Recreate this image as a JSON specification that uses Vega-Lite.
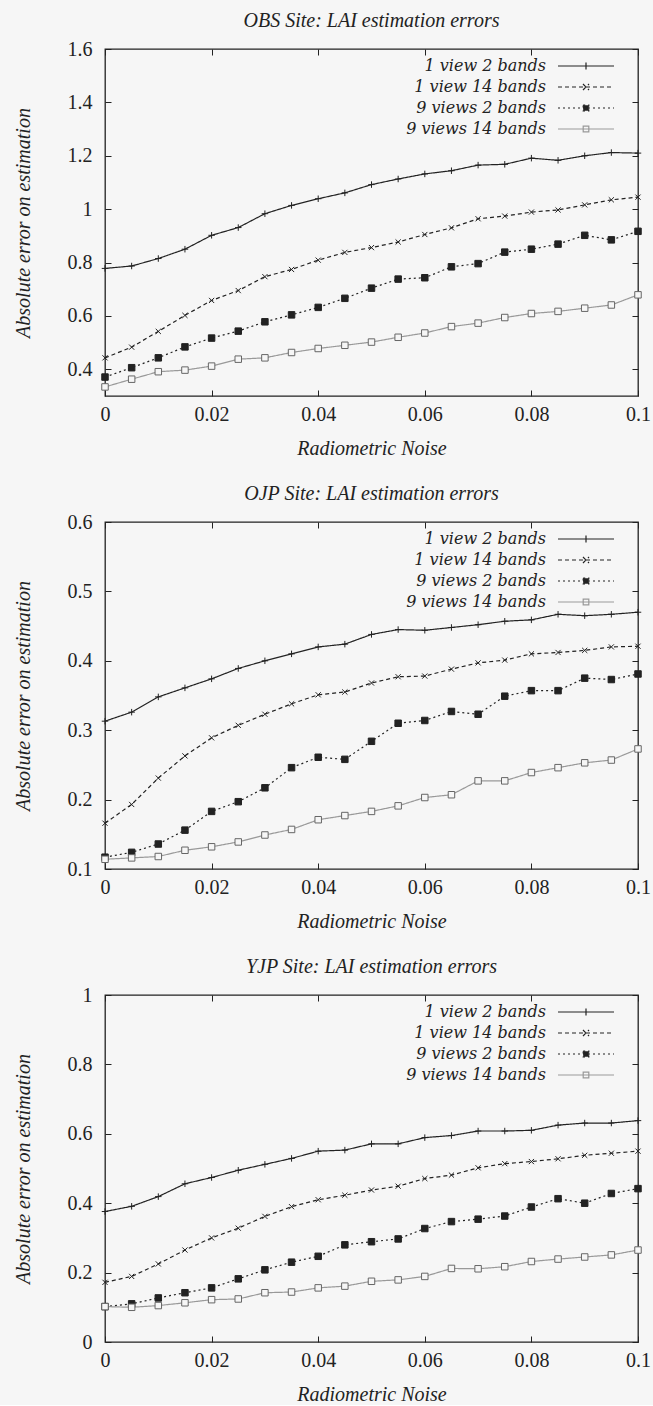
{
  "$schema": "https://vega.github.io/schema/vega-lite/v6.json",
  "background": "#f6f6f6",
  "padding": {"left": 12, "top": 10, "right": 2, "bottom": 0},
  "spacing": 24,
  "config": {
    "view": {"stroke": "#222", "strokeWidth": 1.3},
    "axis": {
      "domain": false, "grid": false,
      "tickSize": -6, "tickColor": "#222", "tickWidth": 1,
      "labelFont": "Liberation Serif", "labelFontSize": 20, "labelColor": "#222",
      "labelFlush": false, "labelOverlap": false,
      "titleFont": "Liberation Serif", "titleFontStyle": "italic", "titleFontSize": 20,
      "titleFontWeight": "normal", "titleColor": "#222", "format": "~g"
    },
    "title": {"font": "Liberation Serif", "fontStyle": "italic", "fontSize": 20, "fontWeight": "normal", "color": "#222", "offset": 8},
    "legend": {
      "labelFont": "DejaVu Serif", "labelFontStyle": "italic", "labelFontSize": 16, "labelColor": "#222",
      "labelLimit": 400, "symbolStrokeWidth": 1.2
    }
  },
  "datasets": {
    "obs": [
      {"series": "1 view 2 bands", "noise": 0, "error": 0.778},
      {"series": "1 view 2 bands", "noise": 0.005, "error": 0.787},
      {"series": "1 view 2 bands", "noise": 0.01, "error": 0.815},
      {"series": "1 view 2 bands", "noise": 0.015, "error": 0.85},
      {"series": "1 view 2 bands", "noise": 0.02, "error": 0.902},
      {"series": "1 view 2 bands", "noise": 0.025, "error": 0.931},
      {"series": "1 view 2 bands", "noise": 0.03, "error": 0.983},
      {"series": "1 view 2 bands", "noise": 0.035, "error": 1.014},
      {"series": "1 view 2 bands", "noise": 0.04, "error": 1.039},
      {"series": "1 view 2 bands", "noise": 0.045, "error": 1.061},
      {"series": "1 view 2 bands", "noise": 0.05, "error": 1.092},
      {"series": "1 view 2 bands", "noise": 0.055, "error": 1.113},
      {"series": "1 view 2 bands", "noise": 0.06, "error": 1.132},
      {"series": "1 view 2 bands", "noise": 0.065, "error": 1.144},
      {"series": "1 view 2 bands", "noise": 0.07, "error": 1.165},
      {"series": "1 view 2 bands", "noise": 0.075, "error": 1.168},
      {"series": "1 view 2 bands", "noise": 0.08, "error": 1.191},
      {"series": "1 view 2 bands", "noise": 0.085, "error": 1.183},
      {"series": "1 view 2 bands", "noise": 0.09, "error": 1.2},
      {"series": "1 view 2 bands", "noise": 0.095, "error": 1.212},
      {"series": "1 view 2 bands", "noise": 0.1, "error": 1.21},
      {"series": "1 view 14 bands", "noise": 0, "error": 0.443},
      {"series": "1 view 14 bands", "noise": 0.005, "error": 0.483},
      {"series": "1 view 14 bands", "noise": 0.01, "error": 0.542},
      {"series": "1 view 14 bands", "noise": 0.015, "error": 0.602},
      {"series": "1 view 14 bands", "noise": 0.02, "error": 0.658},
      {"series": "1 view 14 bands", "noise": 0.025, "error": 0.695},
      {"series": "1 view 14 bands", "noise": 0.03, "error": 0.747},
      {"series": "1 view 14 bands", "noise": 0.035, "error": 0.774},
      {"series": "1 view 14 bands", "noise": 0.04, "error": 0.809},
      {"series": "1 view 14 bands", "noise": 0.045, "error": 0.838},
      {"series": "1 view 14 bands", "noise": 0.05, "error": 0.856},
      {"series": "1 view 14 bands", "noise": 0.055, "error": 0.877},
      {"series": "1 view 14 bands", "noise": 0.06, "error": 0.905},
      {"series": "1 view 14 bands", "noise": 0.065, "error": 0.93},
      {"series": "1 view 14 bands", "noise": 0.07, "error": 0.964},
      {"series": "1 view 14 bands", "noise": 0.075, "error": 0.974},
      {"series": "1 view 14 bands", "noise": 0.08, "error": 0.989},
      {"series": "1 view 14 bands", "noise": 0.085, "error": 0.997},
      {"series": "1 view 14 bands", "noise": 0.09, "error": 1.016},
      {"series": "1 view 14 bands", "noise": 0.095, "error": 1.035},
      {"series": "1 view 14 bands", "noise": 0.1, "error": 1.045},
      {"series": "9 views 2 bands", "noise": 0, "error": 0.371},
      {"series": "9 views 2 bands", "noise": 0.005, "error": 0.406},
      {"series": "9 views 2 bands", "noise": 0.01, "error": 0.443},
      {"series": "9 views 2 bands", "noise": 0.015, "error": 0.484},
      {"series": "9 views 2 bands", "noise": 0.02, "error": 0.517},
      {"series": "9 views 2 bands", "noise": 0.025, "error": 0.543},
      {"series": "9 views 2 bands", "noise": 0.03, "error": 0.578},
      {"series": "9 views 2 bands", "noise": 0.035, "error": 0.604},
      {"series": "9 views 2 bands", "noise": 0.04, "error": 0.632},
      {"series": "9 views 2 bands", "noise": 0.045, "error": 0.666},
      {"series": "9 views 2 bands", "noise": 0.05, "error": 0.704},
      {"series": "9 views 2 bands", "noise": 0.055, "error": 0.738},
      {"series": "9 views 2 bands", "noise": 0.06, "error": 0.743},
      {"series": "9 views 2 bands", "noise": 0.065, "error": 0.784},
      {"series": "9 views 2 bands", "noise": 0.07, "error": 0.796},
      {"series": "9 views 2 bands", "noise": 0.075, "error": 0.839},
      {"series": "9 views 2 bands", "noise": 0.08, "error": 0.85},
      {"series": "9 views 2 bands", "noise": 0.085, "error": 0.869},
      {"series": "9 views 2 bands", "noise": 0.09, "error": 0.902},
      {"series": "9 views 2 bands", "noise": 0.095, "error": 0.885},
      {"series": "9 views 2 bands", "noise": 0.1, "error": 0.917},
      {"series": "9 views 14 bands", "noise": 0, "error": 0.334},
      {"series": "9 views 14 bands", "noise": 0.005, "error": 0.363},
      {"series": "9 views 14 bands", "noise": 0.01, "error": 0.391},
      {"series": "9 views 14 bands", "noise": 0.015, "error": 0.397},
      {"series": "9 views 14 bands", "noise": 0.02, "error": 0.412},
      {"series": "9 views 14 bands", "noise": 0.025, "error": 0.438},
      {"series": "9 views 14 bands", "noise": 0.03, "error": 0.443},
      {"series": "9 views 14 bands", "noise": 0.035, "error": 0.463},
      {"series": "9 views 14 bands", "noise": 0.04, "error": 0.478},
      {"series": "9 views 14 bands", "noise": 0.045, "error": 0.49},
      {"series": "9 views 14 bands", "noise": 0.05, "error": 0.502},
      {"series": "9 views 14 bands", "noise": 0.055, "error": 0.52},
      {"series": "9 views 14 bands", "noise": 0.06, "error": 0.536},
      {"series": "9 views 14 bands", "noise": 0.065, "error": 0.56},
      {"series": "9 views 14 bands", "noise": 0.07, "error": 0.573},
      {"series": "9 views 14 bands", "noise": 0.075, "error": 0.594},
      {"series": "9 views 14 bands", "noise": 0.08, "error": 0.609},
      {"series": "9 views 14 bands", "noise": 0.085, "error": 0.617},
      {"series": "9 views 14 bands", "noise": 0.09, "error": 0.629},
      {"series": "9 views 14 bands", "noise": 0.095, "error": 0.641},
      {"series": "9 views 14 bands", "noise": 0.1, "error": 0.679}
    ],
    "ojp": [
      {"series": "1 view 2 bands", "noise": 0, "error": 0.313},
      {"series": "1 view 2 bands", "noise": 0.005, "error": 0.326},
      {"series": "1 view 2 bands", "noise": 0.01, "error": 0.348},
      {"series": "1 view 2 bands", "noise": 0.015, "error": 0.361},
      {"series": "1 view 2 bands", "noise": 0.02, "error": 0.374},
      {"series": "1 view 2 bands", "noise": 0.025, "error": 0.389},
      {"series": "1 view 2 bands", "noise": 0.03, "error": 0.4},
      {"series": "1 view 2 bands", "noise": 0.035, "error": 0.41},
      {"series": "1 view 2 bands", "noise": 0.04, "error": 0.42},
      {"series": "1 view 2 bands", "noise": 0.045, "error": 0.424},
      {"series": "1 view 2 bands", "noise": 0.05, "error": 0.438},
      {"series": "1 view 2 bands", "noise": 0.055, "error": 0.445},
      {"series": "1 view 2 bands", "noise": 0.06, "error": 0.444},
      {"series": "1 view 2 bands", "noise": 0.065, "error": 0.448},
      {"series": "1 view 2 bands", "noise": 0.07, "error": 0.452},
      {"series": "1 view 2 bands", "noise": 0.075, "error": 0.457},
      {"series": "1 view 2 bands", "noise": 0.08, "error": 0.459},
      {"series": "1 view 2 bands", "noise": 0.085, "error": 0.467},
      {"series": "1 view 2 bands", "noise": 0.09, "error": 0.465},
      {"series": "1 view 2 bands", "noise": 0.095, "error": 0.467},
      {"series": "1 view 2 bands", "noise": 0.1, "error": 0.47},
      {"series": "1 view 14 bands", "noise": 0, "error": 0.166},
      {"series": "1 view 14 bands", "noise": 0.005, "error": 0.193},
      {"series": "1 view 14 bands", "noise": 0.01, "error": 0.231},
      {"series": "1 view 14 bands", "noise": 0.015, "error": 0.263},
      {"series": "1 view 14 bands", "noise": 0.02, "error": 0.289},
      {"series": "1 view 14 bands", "noise": 0.025, "error": 0.307},
      {"series": "1 view 14 bands", "noise": 0.03, "error": 0.323},
      {"series": "1 view 14 bands", "noise": 0.035, "error": 0.338},
      {"series": "1 view 14 bands", "noise": 0.04, "error": 0.351},
      {"series": "1 view 14 bands", "noise": 0.045, "error": 0.355},
      {"series": "1 view 14 bands", "noise": 0.05, "error": 0.368},
      {"series": "1 view 14 bands", "noise": 0.055, "error": 0.377},
      {"series": "1 view 14 bands", "noise": 0.06, "error": 0.378},
      {"series": "1 view 14 bands", "noise": 0.065, "error": 0.388},
      {"series": "1 view 14 bands", "noise": 0.07, "error": 0.397},
      {"series": "1 view 14 bands", "noise": 0.075, "error": 0.401},
      {"series": "1 view 14 bands", "noise": 0.08, "error": 0.41},
      {"series": "1 view 14 bands", "noise": 0.085, "error": 0.412},
      {"series": "1 view 14 bands", "noise": 0.09, "error": 0.415},
      {"series": "1 view 14 bands", "noise": 0.095, "error": 0.42},
      {"series": "1 view 14 bands", "noise": 0.1, "error": 0.421},
      {"series": "9 views 2 bands", "noise": 0, "error": 0.117},
      {"series": "9 views 2 bands", "noise": 0.005, "error": 0.124},
      {"series": "9 views 2 bands", "noise": 0.01, "error": 0.136},
      {"series": "9 views 2 bands", "noise": 0.015, "error": 0.156},
      {"series": "9 views 2 bands", "noise": 0.02, "error": 0.183},
      {"series": "9 views 2 bands", "noise": 0.025, "error": 0.197},
      {"series": "9 views 2 bands", "noise": 0.03, "error": 0.217},
      {"series": "9 views 2 bands", "noise": 0.035, "error": 0.246},
      {"series": "9 views 2 bands", "noise": 0.04, "error": 0.261},
      {"series": "9 views 2 bands", "noise": 0.045, "error": 0.258},
      {"series": "9 views 2 bands", "noise": 0.05, "error": 0.284},
      {"series": "9 views 2 bands", "noise": 0.055, "error": 0.31},
      {"series": "9 views 2 bands", "noise": 0.06, "error": 0.314},
      {"series": "9 views 2 bands", "noise": 0.065, "error": 0.327},
      {"series": "9 views 2 bands", "noise": 0.07, "error": 0.323},
      {"series": "9 views 2 bands", "noise": 0.075, "error": 0.349},
      {"series": "9 views 2 bands", "noise": 0.08, "error": 0.357},
      {"series": "9 views 2 bands", "noise": 0.085, "error": 0.357},
      {"series": "9 views 2 bands", "noise": 0.09, "error": 0.375},
      {"series": "9 views 2 bands", "noise": 0.095, "error": 0.373},
      {"series": "9 views 2 bands", "noise": 0.1, "error": 0.381},
      {"series": "9 views 14 bands", "noise": 0, "error": 0.114},
      {"series": "9 views 14 bands", "noise": 0.005, "error": 0.116},
      {"series": "9 views 14 bands", "noise": 0.01, "error": 0.118},
      {"series": "9 views 14 bands", "noise": 0.015, "error": 0.127},
      {"series": "9 views 14 bands", "noise": 0.02, "error": 0.132},
      {"series": "9 views 14 bands", "noise": 0.025, "error": 0.139},
      {"series": "9 views 14 bands", "noise": 0.03, "error": 0.149},
      {"series": "9 views 14 bands", "noise": 0.035, "error": 0.157},
      {"series": "9 views 14 bands", "noise": 0.04, "error": 0.171},
      {"series": "9 views 14 bands", "noise": 0.045, "error": 0.177},
      {"series": "9 views 14 bands", "noise": 0.05, "error": 0.183},
      {"series": "9 views 14 bands", "noise": 0.055, "error": 0.191},
      {"series": "9 views 14 bands", "noise": 0.06, "error": 0.203},
      {"series": "9 views 14 bands", "noise": 0.065, "error": 0.207},
      {"series": "9 views 14 bands", "noise": 0.07, "error": 0.227},
      {"series": "9 views 14 bands", "noise": 0.075, "error": 0.227},
      {"series": "9 views 14 bands", "noise": 0.08, "error": 0.239},
      {"series": "9 views 14 bands", "noise": 0.085, "error": 0.246},
      {"series": "9 views 14 bands", "noise": 0.09, "error": 0.253},
      {"series": "9 views 14 bands", "noise": 0.095, "error": 0.257},
      {"series": "9 views 14 bands", "noise": 0.1, "error": 0.273}
    ],
    "yjp": [
      {"series": "1 view 2 bands", "noise": 0, "error": 0.376},
      {"series": "1 view 2 bands", "noise": 0.005, "error": 0.391},
      {"series": "1 view 2 bands", "noise": 0.01, "error": 0.419},
      {"series": "1 view 2 bands", "noise": 0.015, "error": 0.456},
      {"series": "1 view 2 bands", "noise": 0.02, "error": 0.474},
      {"series": "1 view 2 bands", "noise": 0.025, "error": 0.495},
      {"series": "1 view 2 bands", "noise": 0.03, "error": 0.512},
      {"series": "1 view 2 bands", "noise": 0.035, "error": 0.529},
      {"series": "1 view 2 bands", "noise": 0.04, "error": 0.55},
      {"series": "1 view 2 bands", "noise": 0.045, "error": 0.553},
      {"series": "1 view 2 bands", "noise": 0.05, "error": 0.571},
      {"series": "1 view 2 bands", "noise": 0.055, "error": 0.571},
      {"series": "1 view 2 bands", "noise": 0.06, "error": 0.589},
      {"series": "1 view 2 bands", "noise": 0.065, "error": 0.595},
      {"series": "1 view 2 bands", "noise": 0.07, "error": 0.608},
      {"series": "1 view 2 bands", "noise": 0.075, "error": 0.608},
      {"series": "1 view 2 bands", "noise": 0.08, "error": 0.61},
      {"series": "1 view 2 bands", "noise": 0.085, "error": 0.625},
      {"series": "1 view 2 bands", "noise": 0.09, "error": 0.631},
      {"series": "1 view 2 bands", "noise": 0.095, "error": 0.631},
      {"series": "1 view 2 bands", "noise": 0.1, "error": 0.638},
      {"series": "1 view 14 bands", "noise": 0, "error": 0.172},
      {"series": "1 view 14 bands", "noise": 0.005, "error": 0.189},
      {"series": "1 view 14 bands", "noise": 0.01, "error": 0.225},
      {"series": "1 view 14 bands", "noise": 0.015, "error": 0.265},
      {"series": "1 view 14 bands", "noise": 0.02, "error": 0.3},
      {"series": "1 view 14 bands", "noise": 0.025, "error": 0.328},
      {"series": "1 view 14 bands", "noise": 0.03, "error": 0.362},
      {"series": "1 view 14 bands", "noise": 0.035, "error": 0.39},
      {"series": "1 view 14 bands", "noise": 0.04, "error": 0.41},
      {"series": "1 view 14 bands", "noise": 0.045, "error": 0.423},
      {"series": "1 view 14 bands", "noise": 0.05, "error": 0.438},
      {"series": "1 view 14 bands", "noise": 0.055, "error": 0.449},
      {"series": "1 view 14 bands", "noise": 0.06, "error": 0.471},
      {"series": "1 view 14 bands", "noise": 0.065, "error": 0.481},
      {"series": "1 view 14 bands", "noise": 0.07, "error": 0.502},
      {"series": "1 view 14 bands", "noise": 0.075, "error": 0.514},
      {"series": "1 view 14 bands", "noise": 0.08, "error": 0.52},
      {"series": "1 view 14 bands", "noise": 0.085, "error": 0.528},
      {"series": "1 view 14 bands", "noise": 0.09, "error": 0.538},
      {"series": "1 view 14 bands", "noise": 0.095, "error": 0.544},
      {"series": "1 view 14 bands", "noise": 0.1, "error": 0.55},
      {"series": "9 views 2 bands", "noise": 0, "error": 0.102},
      {"series": "9 views 2 bands", "noise": 0.005, "error": 0.11},
      {"series": "9 views 2 bands", "noise": 0.01, "error": 0.127},
      {"series": "9 views 2 bands", "noise": 0.015, "error": 0.142},
      {"series": "9 views 2 bands", "noise": 0.02, "error": 0.156},
      {"series": "9 views 2 bands", "noise": 0.025, "error": 0.182},
      {"series": "9 views 2 bands", "noise": 0.03, "error": 0.208},
      {"series": "9 views 2 bands", "noise": 0.035, "error": 0.23},
      {"series": "9 views 2 bands", "noise": 0.04, "error": 0.247},
      {"series": "9 views 2 bands", "noise": 0.045, "error": 0.28},
      {"series": "9 views 2 bands", "noise": 0.05, "error": 0.289},
      {"series": "9 views 2 bands", "noise": 0.055, "error": 0.297},
      {"series": "9 views 2 bands", "noise": 0.06, "error": 0.327},
      {"series": "9 views 2 bands", "noise": 0.065, "error": 0.347},
      {"series": "9 views 2 bands", "noise": 0.07, "error": 0.354},
      {"series": "9 views 2 bands", "noise": 0.075, "error": 0.363},
      {"series": "9 views 2 bands", "noise": 0.08, "error": 0.389},
      {"series": "9 views 2 bands", "noise": 0.085, "error": 0.413},
      {"series": "9 views 2 bands", "noise": 0.09, "error": 0.4},
      {"series": "9 views 2 bands", "noise": 0.095, "error": 0.428},
      {"series": "9 views 2 bands", "noise": 0.1, "error": 0.442},
      {"series": "9 views 14 bands", "noise": 0, "error": 0.102},
      {"series": "9 views 14 bands", "noise": 0.005, "error": 0.1},
      {"series": "9 views 14 bands", "noise": 0.01, "error": 0.105},
      {"series": "9 views 14 bands", "noise": 0.015, "error": 0.113},
      {"series": "9 views 14 bands", "noise": 0.02, "error": 0.122},
      {"series": "9 views 14 bands", "noise": 0.025, "error": 0.124},
      {"series": "9 views 14 bands", "noise": 0.03, "error": 0.142},
      {"series": "9 views 14 bands", "noise": 0.035, "error": 0.144},
      {"series": "9 views 14 bands", "noise": 0.04, "error": 0.156},
      {"series": "9 views 14 bands", "noise": 0.045, "error": 0.161},
      {"series": "9 views 14 bands", "noise": 0.05, "error": 0.175},
      {"series": "9 views 14 bands", "noise": 0.055, "error": 0.179},
      {"series": "9 views 14 bands", "noise": 0.06, "error": 0.189},
      {"series": "9 views 14 bands", "noise": 0.065, "error": 0.212},
      {"series": "9 views 14 bands", "noise": 0.07, "error": 0.211},
      {"series": "9 views 14 bands", "noise": 0.075, "error": 0.217},
      {"series": "9 views 14 bands", "noise": 0.08, "error": 0.232},
      {"series": "9 views 14 bands", "noise": 0.085, "error": 0.239},
      {"series": "9 views 14 bands", "noise": 0.09, "error": 0.245},
      {"series": "9 views 14 bands", "noise": 0.095, "error": 0.251},
      {"series": "9 views 14 bands", "noise": 0.1, "error": 0.265}
    ]
  },
  "vconcat": [
    {
      "data": {"name": "obs"},
      "width": 533, "height": 347,
      "title": "OBS Site: LAI estimation errors",
      "layer": [
        {
          "mark": {"type": "line", "strokeWidth": 1.2},
          "encoding": {
            "x": {"field": "noise", "type": "quantitative", "scale": {"domain": [0, 0.1], "nice": false}, "axis": {"values": [0, 0.02, 0.04, 0.06, 0.08, 0.1], "title": "Radiometric Noise", "labelPadding": 14, "titlePadding": 14}},
            "y": {"field": "error", "type": "quantitative", "scale": {"domain": [0.3, 1.6], "nice": false, "zero": false}, "axis": {"values": [0.4, 0.6, 0.8, 1, 1.2, 1.4, 1.6], "title": "Absolute error on estimation", "labelPadding": 19, "titlePadding": 34}},
            "color": {"field": "series", "type": "nominal", "scale": {"domain": ["1 view 2 bands", "1 view 14 bands", "9 views 2 bands", "9 views 14 bands"], "range": ["#222222", "#222222", "#222222", "#999999"]}, "legend": {"title": null, "orient": "none", "legendX": 470, "legendY": 6, "padding": 0, "symbolType": "M-2.8,0L2.8,0", "symbolSize": 400, "labelAlign": "right", "labelOffset": -51, "encode": {"symbols": {"update": {"shape": {"signal": "datum.value === '1 view 2 bands' ? 'M-2.8,0L2.8,0M0,-0.35L0,0.35' : datum.value === '1 view 14 bands' ? 'M-2.8,0L2.8,0M-0.3,-0.3L0.3,0.3M-0.3,0.3L0.3,-0.3' : 'M-2.8,0L2.8,0M-0.28,-0.28L0.28,-0.28L0.28,0.28L-0.28,0.28Z'"}, "fill": {"signal": "datum.value === '9 views 2 bands' ? '#222222' : datum.value === '9 views 14 bands' ? '#f6f6f6' : 'transparent'"}}}}}},
            "strokeDash": {"field": "series", "type": "nominal", "scale": {"domain": ["1 view 2 bands", "1 view 14 bands", "9 views 2 bands", "9 views 14 bands"], "range": [[1, 0], [4, 3], [2, 3], [1, 0]]}, "legend": {"title": null, "orient": "none", "legendX": 470, "legendY": 6, "padding": 0, "symbolType": "M-2.8,0L2.8,0", "symbolSize": 400, "labelAlign": "right", "labelOffset": -51, "encode": {"symbols": {"update": {"shape": {"signal": "datum.value === '1 view 2 bands' ? 'M-2.8,0L2.8,0M0,-0.35L0,0.35' : datum.value === '1 view 14 bands' ? 'M-2.8,0L2.8,0M-0.3,-0.3L0.3,0.3M-0.3,0.3L0.3,-0.3' : 'M-2.8,0L2.8,0M-0.28,-0.28L0.28,-0.28L0.28,0.28L-0.28,0.28Z'"}, "fill": {"signal": "datum.value === '9 views 2 bands' ? '#222222' : datum.value === '9 views 14 bands' ? '#f6f6f6' : 'transparent'"}}}}}}
          }
        },
        {
          "mark": {"type": "point", "size": 42, "strokeWidth": 1, "opacity": 1},
          "encoding": {
            "x": {"field": "noise", "type": "quantitative", "axis": {"orient": "top", "values": [0, 0.02, 0.04, 0.06, 0.08, 0.1], "labels": false, "title": null}},
            "y": {"field": "error", "type": "quantitative", "axis": {"orient": "right", "values": [0.4, 0.6, 0.8, 1, 1.2, 1.4, 1.6], "labels": false, "title": null}},
            "shape": {"field": "series", "type": "nominal", "scale": {"domain": ["1 view 2 bands", "1 view 14 bands", "9 views 2 bands", "9 views 14 bands"], "range": ["M-1,0L1,0M0,-1L0,1", "M-0.8,-0.8L0.8,0.8M-0.8,0.8L0.8,-0.8", "square", "square"]}, "legend": null},
            "fill": {"field": "series", "type": "nominal", "scale": {"domain": ["1 view 2 bands", "1 view 14 bands", "9 views 2 bands", "9 views 14 bands"], "range": ["transparent", "transparent", "#222222", "#f6f6f6"]}, "legend": null},
            "stroke": {"field": "series", "type": "nominal", "scale": {"domain": ["1 view 2 bands", "1 view 14 bands", "9 views 2 bands", "9 views 14 bands"], "range": ["#222222", "#222222", "#222222", "#666666"]}, "legend": null}
          }
        }
      ],
      "resolve": {"axis": {"x": "independent", "y": "independent"}}
    },
    {
      "data": {"name": "ojp"},
      "width": 533, "height": 347,
      "title": "OJP Site: LAI estimation errors",
      "layer": [
        {
          "mark": {"type": "line", "strokeWidth": 1.2},
          "encoding": {
            "x": {"field": "noise", "type": "quantitative", "scale": {"domain": [0, 0.1], "nice": false}, "axis": {"values": [0, 0.02, 0.04, 0.06, 0.08, 0.1], "title": "Radiometric Noise", "labelPadding": 14, "titlePadding": 14}},
            "y": {"field": "error", "type": "quantitative", "scale": {"domain": [0.1, 0.6], "nice": false, "zero": false}, "axis": {"values": [0.1, 0.2, 0.3, 0.4, 0.5, 0.6], "title": "Absolute error on estimation", "labelPadding": 19, "titlePadding": 34}},
            "color": {"field": "series", "type": "nominal", "scale": {"domain": ["1 view 2 bands", "1 view 14 bands", "9 views 2 bands", "9 views 14 bands"], "range": ["#222222", "#222222", "#222222", "#999999"]}, "legend": {"title": null, "orient": "none", "legendX": 470, "legendY": 6, "padding": 0, "symbolType": "M-2.8,0L2.8,0", "symbolSize": 400, "labelAlign": "right", "labelOffset": -51, "encode": {"symbols": {"update": {"shape": {"signal": "datum.value === '1 view 2 bands' ? 'M-2.8,0L2.8,0M0,-0.35L0,0.35' : datum.value === '1 view 14 bands' ? 'M-2.8,0L2.8,0M-0.3,-0.3L0.3,0.3M-0.3,0.3L0.3,-0.3' : 'M-2.8,0L2.8,0M-0.28,-0.28L0.28,-0.28L0.28,0.28L-0.28,0.28Z'"}, "fill": {"signal": "datum.value === '9 views 2 bands' ? '#222222' : datum.value === '9 views 14 bands' ? '#f6f6f6' : 'transparent'"}}}}}},
            "strokeDash": {"field": "series", "type": "nominal", "scale": {"domain": ["1 view 2 bands", "1 view 14 bands", "9 views 2 bands", "9 views 14 bands"], "range": [[1, 0], [4, 3], [2, 3], [1, 0]]}, "legend": {"title": null, "orient": "none", "legendX": 470, "legendY": 6, "padding": 0, "symbolType": "M-2.8,0L2.8,0", "symbolSize": 400, "labelAlign": "right", "labelOffset": -51, "encode": {"symbols": {"update": {"shape": {"signal": "datum.value === '1 view 2 bands' ? 'M-2.8,0L2.8,0M0,-0.35L0,0.35' : datum.value === '1 view 14 bands' ? 'M-2.8,0L2.8,0M-0.3,-0.3L0.3,0.3M-0.3,0.3L0.3,-0.3' : 'M-2.8,0L2.8,0M-0.28,-0.28L0.28,-0.28L0.28,0.28L-0.28,0.28Z'"}, "fill": {"signal": "datum.value === '9 views 2 bands' ? '#222222' : datum.value === '9 views 14 bands' ? '#f6f6f6' : 'transparent'"}}}}}}
          }
        },
        {
          "mark": {"type": "point", "size": 42, "strokeWidth": 1, "opacity": 1},
          "encoding": {
            "x": {"field": "noise", "type": "quantitative", "axis": {"orient": "top", "values": [0, 0.02, 0.04, 0.06, 0.08, 0.1], "labels": false, "title": null}},
            "y": {"field": "error", "type": "quantitative", "axis": {"orient": "right", "values": [0.1, 0.2, 0.3, 0.4, 0.5, 0.6], "labels": false, "title": null}},
            "shape": {"field": "series", "type": "nominal", "scale": {"domain": ["1 view 2 bands", "1 view 14 bands", "9 views 2 bands", "9 views 14 bands"], "range": ["M-1,0L1,0M0,-1L0,1", "M-0.8,-0.8L0.8,0.8M-0.8,0.8L0.8,-0.8", "square", "square"]}, "legend": null},
            "fill": {"field": "series", "type": "nominal", "scale": {"domain": ["1 view 2 bands", "1 view 14 bands", "9 views 2 bands", "9 views 14 bands"], "range": ["transparent", "transparent", "#222222", "#f6f6f6"]}, "legend": null},
            "stroke": {"field": "series", "type": "nominal", "scale": {"domain": ["1 view 2 bands", "1 view 14 bands", "9 views 2 bands", "9 views 14 bands"], "range": ["#222222", "#222222", "#222222", "#666666"]}, "legend": null}
          }
        }
      ],
      "resolve": {"axis": {"x": "independent", "y": "independent"}}
    },
    {
      "data": {"name": "yjp"},
      "width": 533, "height": 347,
      "title": "YJP Site: LAI estimation errors",
      "layer": [
        {
          "mark": {"type": "line", "strokeWidth": 1.2},
          "encoding": {
            "x": {"field": "noise", "type": "quantitative", "scale": {"domain": [0, 0.1], "nice": false}, "axis": {"values": [0, 0.02, 0.04, 0.06, 0.08, 0.1], "title": "Radiometric Noise", "labelPadding": 14, "titlePadding": 14}},
            "y": {"field": "error", "type": "quantitative", "scale": {"domain": [0, 1], "nice": false, "zero": false}, "axis": {"values": [0, 0.2, 0.4, 0.6, 0.8, 1], "title": "Absolute error on estimation", "labelPadding": 19, "titlePadding": 34}},
            "color": {"field": "series", "type": "nominal", "scale": {"domain": ["1 view 2 bands", "1 view 14 bands", "9 views 2 bands", "9 views 14 bands"], "range": ["#222222", "#222222", "#222222", "#999999"]}, "legend": {"title": null, "orient": "none", "legendX": 470, "legendY": 6, "padding": 0, "symbolType": "M-2.8,0L2.8,0", "symbolSize": 400, "labelAlign": "right", "labelOffset": -51, "encode": {"symbols": {"update": {"shape": {"signal": "datum.value === '1 view 2 bands' ? 'M-2.8,0L2.8,0M0,-0.35L0,0.35' : datum.value === '1 view 14 bands' ? 'M-2.8,0L2.8,0M-0.3,-0.3L0.3,0.3M-0.3,0.3L0.3,-0.3' : 'M-2.8,0L2.8,0M-0.28,-0.28L0.28,-0.28L0.28,0.28L-0.28,0.28Z'"}, "fill": {"signal": "datum.value === '9 views 2 bands' ? '#222222' : datum.value === '9 views 14 bands' ? '#f6f6f6' : 'transparent'"}}}}}},
            "strokeDash": {"field": "series", "type": "nominal", "scale": {"domain": ["1 view 2 bands", "1 view 14 bands", "9 views 2 bands", "9 views 14 bands"], "range": [[1, 0], [4, 3], [2, 3], [1, 0]]}, "legend": {"title": null, "orient": "none", "legendX": 470, "legendY": 6, "padding": 0, "symbolType": "M-2.8,0L2.8,0", "symbolSize": 400, "labelAlign": "right", "labelOffset": -51, "encode": {"symbols": {"update": {"shape": {"signal": "datum.value === '1 view 2 bands' ? 'M-2.8,0L2.8,0M0,-0.35L0,0.35' : datum.value === '1 view 14 bands' ? 'M-2.8,0L2.8,0M-0.3,-0.3L0.3,0.3M-0.3,0.3L0.3,-0.3' : 'M-2.8,0L2.8,0M-0.28,-0.28L0.28,-0.28L0.28,0.28L-0.28,0.28Z'"}, "fill": {"signal": "datum.value === '9 views 2 bands' ? '#222222' : datum.value === '9 views 14 bands' ? '#f6f6f6' : 'transparent'"}}}}}}
          }
        },
        {
          "mark": {"type": "point", "size": 42, "strokeWidth": 1, "opacity": 1},
          "encoding": {
            "x": {"field": "noise", "type": "quantitative", "axis": {"orient": "top", "values": [0, 0.02, 0.04, 0.06, 0.08, 0.1], "labels": false, "title": null}},
            "y": {"field": "error", "type": "quantitative", "axis": {"orient": "right", "values": [0, 0.2, 0.4, 0.6, 0.8, 1], "labels": false, "title": null}},
            "shape": {"field": "series", "type": "nominal", "scale": {"domain": ["1 view 2 bands", "1 view 14 bands", "9 views 2 bands", "9 views 14 bands"], "range": ["M-1,0L1,0M0,-1L0,1", "M-0.8,-0.8L0.8,0.8M-0.8,0.8L0.8,-0.8", "square", "square"]}, "legend": null},
            "fill": {"field": "series", "type": "nominal", "scale": {"domain": ["1 view 2 bands", "1 view 14 bands", "9 views 2 bands", "9 views 14 bands"], "range": ["transparent", "transparent", "#222222", "#f6f6f6"]}, "legend": null},
            "stroke": {"field": "series", "type": "nominal", "scale": {"domain": ["1 view 2 bands", "1 view 14 bands", "9 views 2 bands", "9 views 14 bands"], "range": ["#222222", "#222222", "#222222", "#666666"]}, "legend": null}
          }
        }
      ],
      "resolve": {"axis": {"x": "independent", "y": "independent"}}
    }
  ],
  "resolve": {
    "scale": {"color": "independent", "strokeDash": "independent"},
    "legend": {"color": "independent", "strokeDash": "independent"}
  }
}
